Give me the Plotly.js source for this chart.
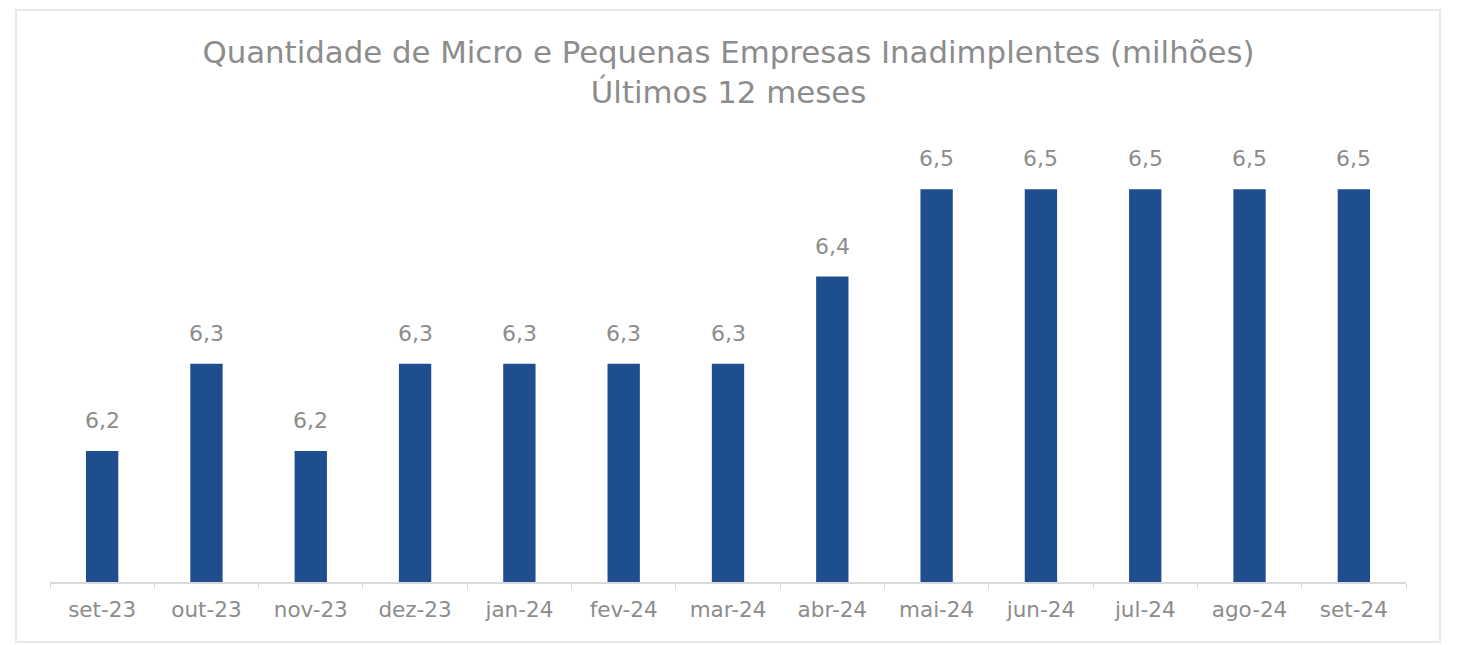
<!DOCTYPE html>
<html>
<head>
<meta charset="utf-8">
<script src="https://cdn.plot.ly/plotly-3.0.1.min.js"></script>
<style>
html,body{margin:0;padding:0;background:#fff;}
#chart{width:1457px;height:645px;}
</style>
</head>
<body>
<div id="chart"></div>
<script>
const months = ["set-23","out-23","nov-23","dez-23","jan-24","fev-24","mar-24","abr-24","mai-24","jun-24","jul-24","ago-24","set-24"];
const values = [6.2,6.3,6.2,6.3,6.3,6.3,6.3,6.4,6.5,6.5,6.5,6.5,6.5];

const FONT = "'DejaVu Sans', Verdana, sans-serif";
const GRAY = "#8c8c8c";

const trace = {
  type: "bar",
  x: months,
  y: values,
  marker: {color: "#1f4e8f"},
  hoverinfo: "skip"
};

const labels = months.map((m, i) => ({
  x: m,
  y: values[i],
  xref: "x",
  yref: "y",
  text: values[i].toFixed(1).replace(".", ","),
  showarrow: false,
  yanchor: "bottom",
  yshift: 16,
  font: {family: FONT, size: 22, color: GRAY}
}));

const layout = {
  width: 1457,
  height: 645,
  margin: {l: 50, r: 51, t: 102, b: 63},
  paper_bgcolor: "#ffffff",
  plot_bgcolor: "#ffffff",
  bargap: 0.69,
  showlegend: false,
  title: {
    text: "Quantidade de Micro e Pequenas Empresas Inadimplentes (milhões)<br>Últimos 12 meses",
    x: 0.5,
    xanchor: "center",
    yref: "container",
    y: 0.903,
    yanchor: "top",
    font: {family: FONT, size: 30.8, color: GRAY}
  },
  xaxis: {
    type: "category",
    showline: true,
    linecolor: "#d9d9d9",
    linewidth: 1.5,
    ticks: "outside",
    tickson: "boundaries",
    ticklen: 5,
    tickcolor: "#d9d9d9",
    ticklabelstandoff: 8,
    showgrid: false,
    zeroline: false,
    tickfont: {family: FONT, size: 21.5, color: GRAY}
  },
  yaxis: {
    range: [6.05, 6.6],
    visible: false,
    showgrid: false,
    zeroline: false
  },
  annotations: labels,
  shapes: [{
    type: "rect",
    xref: "paper", yref: "paper",
    x0: -0.0251, x1: 1.0251, y0: -0.125, y1: 1.1917,
    line: {color: "#e8e8e8", width: 2},
    fillcolor: "rgba(0,0,0,0)",
    layer: "below"
  }]
};

Plotly.newPlot("chart", [trace], layout, {displayModeBar: false, staticPlot: true});
</script>
</body>
</html>
